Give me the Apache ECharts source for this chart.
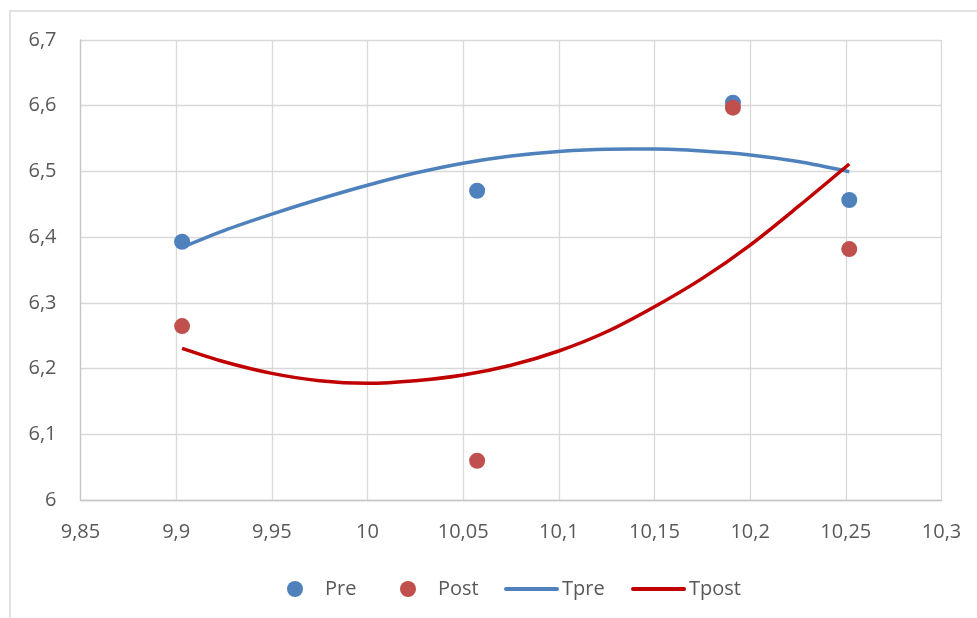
<!DOCTYPE html>
<html>
<head>
<meta charset="utf-8">
<title>Pre / Post</title>
<script src="https://cdn.jsdelivr.net/npm/echarts@6/dist/echarts.min.js"></script>
<style>
  html, body { margin: 0; padding: 0; background: #ffffff; }
  #chart { width: 977px; height: 618px; }
</style>
</head>
<body>
<div id="chart"></div>
<script>
// Measured points (x, y)
const preData = [
  [9.9031, 6.393],
  [10.0573, 6.4706],
  [10.191, 6.6046],
  [10.2518, 6.4565]
];
const postData = [
  [9.9031, 6.2647],
  [10.0573, 6.0597],
  [10.191, 6.597],
  [10.2518, 6.3819]
];

// Trend curves, sampled along the x range of the data
const trendX = [9.9031, 9.925, 9.95, 9.975, 10.0, 10.025, 10.05, 10.075,
                10.1, 10.125, 10.15, 10.175, 10.2, 10.225, 10.2518];
const tpreY = [6.3845, 6.4100, 6.4350, 6.4580, 6.4790, 6.4975, 6.5125, 6.5235,
               6.5305, 6.5338, 6.5340, 6.5310, 6.5250, 6.5150, 6.4996];
const tpostY = [6.2307, 6.2104, 6.1927, 6.1814, 6.1775, 6.1814, 6.1901, 6.205,
                6.2267, 6.256, 6.2941, 6.3373, 6.388, 6.4463, 6.5113];

const xTickLabels = ['9,85', '9,9', '9,95', '10', '10,05', '10,1', '10,15', '10,2', '10,25', '10,3'];
const yTickLabels = ['6', '6,1', '6,2', '6,3', '6,4', '6,5', '6,6', '6,7'];

const textColor = '#595959';
const font = 'Open Sans';
const gridColor = '#D9D9D9';
const axisColor = '#C6C6C6';

const pair = (xs, ys) => xs.map((x, i) => [x, ys[i]]);

const chart = echarts.init(document.getElementById('chart'), null, { renderer: 'canvas' });

function legendAt(name, left, opts) {
  return Object.assign({
    data: [name],
    left: left,
    top: 579,
    padding: 0,
    itemGap: 0,
    selectedMode: false,
    symbolKeepAspect: true,
    textStyle: { color: textColor, fontFamily: font, fontSize: 20 }
  }, opts);
}

// thin bar used as the legend key of the trend lines
const barIcon = 'path://M2,0 L53,0 A2,2 0 0 1 53,4 L2,4 A2,2 0 0 1 2,0 Z';

chart.setOption({
  animation: false,
  backgroundColor: '#ffffff',
  graphic: [{
    type: 'polyline',
    shape: { points: [[10, 700], [10, 11], [1000, 11]] },
    style: { stroke: gridColor, lineWidth: 1.5, fill: null },
    silent: true
  }],
  grid: { left: 80.5, right: 35.5, top: 40, bottom: 118 },
  legend: [
    legendAt('Pre', 287, {
      itemWidth: 16, itemHeight: 16, icon: 'circle',
      textStyle: { color: textColor, fontFamily: font, fontSize: 20, padding: [0, 0, 0, 17] }
    }),
    legendAt('Post', 400, {
      itemWidth: 16, itemHeight: 16, icon: 'circle',
      textStyle: { color: textColor, fontFamily: font, fontSize: 20, padding: [0, 0, 0, 17] }
    }),
    legendAt('Tpre', 504, {
      itemWidth: 55, itemHeight: 16, icon: barIcon,
      textStyle: { color: textColor, fontFamily: font, fontSize: 20, padding: [0, 0, 0, -2] }
    }),
    legendAt('Tpost', 631, {
      itemWidth: 55, itemHeight: 16, icon: barIcon,
      textStyle: { color: textColor, fontFamily: font, fontSize: 20, padding: [0, 0, 0, -2] }
    })
  ],
  xAxis: {
    type: 'value',
    min: 9.85,
    max: 10.3,
    interval: 0.05,
    axisLine: { show: true, lineStyle: { color: axisColor, width: 1.3 } },
    axisTick: { show: false },
    splitLine: { show: true, lineStyle: { color: gridColor, width: 1.3 } },
    axisLabel: {
      color: textColor, fontFamily: font, fontSize: 20, margin: 22,
      formatter: (v, i) => xTickLabels[i]
    }
  },
  yAxis: {
    type: 'value',
    min: 6,
    max: 6.7,
    interval: 0.1,
    axisLine: { show: true, lineStyle: { color: axisColor, width: 1.3 } },
    axisTick: { show: false },
    splitLine: { show: true, lineStyle: { color: gridColor, width: 1.3 } },
    axisLabel: {
      color: textColor, fontFamily: font, fontSize: 20, margin: 24,
      formatter: (v, i) => yTickLabels[i]
    }
  },
  series: [
    {
      name: 'Pre', type: 'scatter', data: preData,
      symbol: 'circle', symbolSize: 16,
      itemStyle: { color: '#4F81BD', opacity: 1 }, z: 2
    },
    {
      name: 'Post', type: 'scatter', data: postData,
      symbol: 'circle', symbolSize: 16,
      itemStyle: { color: '#C0504D', opacity: 1 }, z: 2
    },
    {
      name: 'Tpre', type: 'line', data: pair(trendX, tpreY),
      smooth: 0.3, showSymbol: false, symbol: 'none',
      lineStyle: { color: '#4F81BD', width: 3.5 },
      itemStyle: { color: '#4F81BD' }, z: 3
    },
    {
      name: 'Tpost', type: 'line', data: pair(trendX, tpostY),
      smooth: 0.3, showSymbol: false, symbol: 'none',
      lineStyle: { color: '#C00000', width: 3.5 },
      itemStyle: { color: '#C00000' }, z: 3
    }
  ]
});
</script>
</body>
</html>
